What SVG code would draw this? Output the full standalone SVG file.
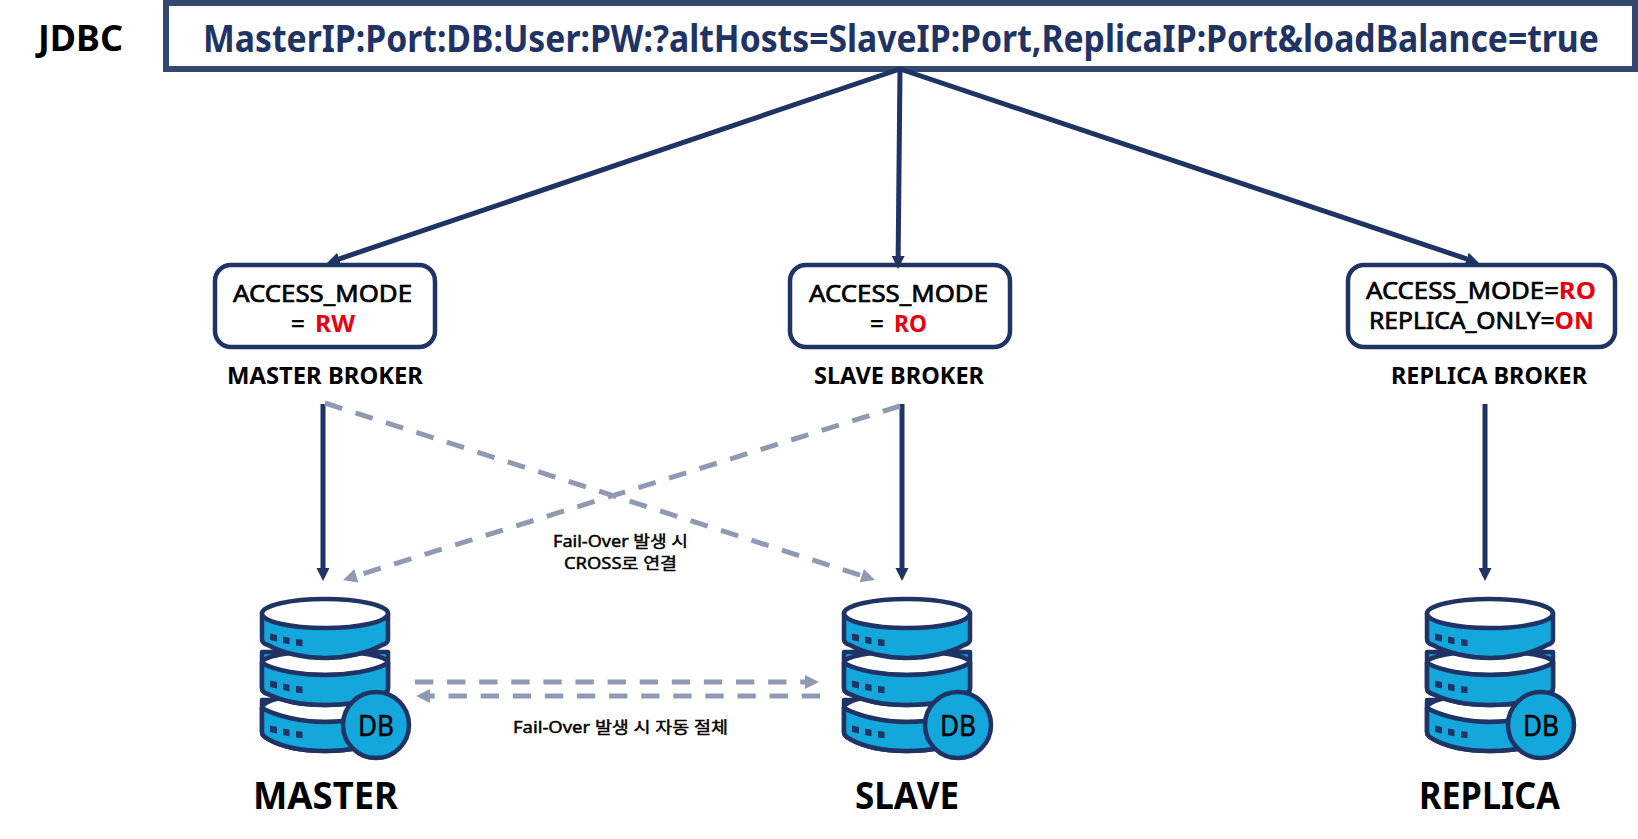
<svg xmlns="http://www.w3.org/2000/svg" width="1638" height="839" viewBox="0 0 1638 839">
<style>
text{font-family:"Noto Sans","Noto Sans CJK KR","Liberation Sans",sans-serif;fill:#000;text-anchor:start}
.b{font-weight:700}
.lbl{font-size:24px;stroke:#000;stroke-width:.7px}
.red{fill:#e60012;stroke:none;font-weight:700}
.broker{fill:#fff;stroke:#1f3364;stroke-width:4.5}
.cap{font-size:23px;font-weight:700}
.title{font-size:38px;font-weight:700}
.note{font-size:15.5px;stroke:#000;stroke-width:.45px}
.dbt{font-size:29px;stroke:#000;stroke-width:.5px}
.solid{fill:none;stroke:#1f3364;stroke-width:5}
.dash{fill:none;stroke:#8f99b2;stroke-width:5;stroke-dasharray:18 14}
.dash2{fill:none;stroke:#8f99b2;stroke-width:5;stroke-dasharray:18.3 13.8}
.body{fill:#13a7dc;stroke:#1f3364;stroke-width:4.5;stroke-linejoin:round}
.top{fill:#fff;stroke:#1f3364;stroke-width:4.5}
.dot{fill:#1f3364}
</style>
<defs>
<marker id="ah" markerUnits="userSpaceOnUse" markerWidth="14" markerHeight="14" refX="6" refY="7" orient="auto"><path d="M0 0.500L13 7L0 13.500Z" fill="#1f3364"/></marker>
<marker id="ahg" markerUnits="userSpaceOnUse" markerWidth="15" markerHeight="14" refX="0" refY="7" orient="auto"><path d="M0 0L14 7L0 14Z" fill="#8f99b2"/></marker>
<g id="dots"><path class="dot" d="M270 633.500l7 1.500v6.500l-7-1.500zM283 636.500l6.500 1.300v6.500l-6.500-1.300zM296 639l6.500 .7v6.500l-6.500-.7z"/></g>
<g id="db">
<path class="body" d="M262 700v32c0 3 2 5 6 7c14 8 36 12 57 12c21 0 43-4 57-12c4-2 6-4 6-7v-32z"/>
<ellipse class="top" cx="325" cy="708" rx="63" ry="14"/>
<path class="body" d="M262 708c14 8 40 14 63 14c23 0 49-6 63-14v24c0 3-2 5-6 7c-14 8-36 12-57 12c-21 0-43-4-57-12c-4-2-6-4-6-7z"/>
<path class="body" d="M262 652v36c0 3 2 5 6 6c14 7 36 11 57 11c21 0 43-4 57-11c4-1 6-3 6-6v-36z"/>
<ellipse class="top" cx="325" cy="663" rx="63" ry="12"/>
<path class="body" d="M262 663c14 8 40 12 63 12c23 0 49-4 63-12v25c0 3-2 5-6 6c-14 7-36 11-57 11c-21 0-43-4-57-11c-4-1-6-3-6-6z"/>
<path class="body" d="M262 613v26c0 3 2 5 6 6c14 8 36 13 57 13c21 0 43-5 57-13c4-1 6-3 6-6v-26z"/>
<ellipse class="top" cx="325" cy="613.500" rx="63" ry="14.500"/>
<use href="#dots"/><use href="#dots" y="47"/><use href="#dots" y="92"/>
<circle class="body" cx="376" cy="725" r="33"/>
</g>
</defs>
<rect width="1638" height="839" fill="#fff"/>

<g id="jdbc-label"><text class="b" x="38" y="51" font-size="35" textLength="85" lengthAdjust="spacingAndGlyphs">JDBC</text></g>
<g id="jdbc-url">
<rect x="166" y="3" width="1469" height="66" fill="#fff" stroke="#34476f" stroke-width="6"/>
<text class="b" transform="translate(203 52) scale(.9 1)" font-size="38" style="fill:#1f3364" textLength="1551" lengthAdjust="spacingAndGlyphs">MasterIP:Port:DB:User:PW:?altHosts=SlaveIP:Port,ReplicaIP:Port&amp;loadBalance=true</text>
</g>

<g id="master-broker">
<rect class="broker" x="215" y="265" width="220" height="82" rx="16"/>
<text class="lbl" x="233" y="302" textLength="179" lengthAdjust="spacingAndGlyphs">ACCESS_MODE</text>
<text class="lbl" x="291" y="332">=</text><text class="lbl red" x="315" y="332" textLength="40" lengthAdjust="spacingAndGlyphs">RW</text>
<text class="cap" x="227" y="384" textLength="196" lengthAdjust="spacingAndGlyphs">MASTER BROKER</text>
</g>
<g id="slave-broker">
<rect class="broker" x="790" y="265" width="220" height="82" rx="16"/>
<text class="lbl" x="809" y="302" textLength="179" lengthAdjust="spacingAndGlyphs">ACCESS_MODE</text>
<text class="lbl" x="870" y="332">=</text><text class="lbl red" x="894" y="332" textLength="33" lengthAdjust="spacingAndGlyphs">RO</text>
<text class="cap" x="814" y="384" textLength="170" lengthAdjust="spacingAndGlyphs">SLAVE BROKER</text>
</g>
<g id="replica-broker">
<rect class="broker" x="1348" y="265" width="267" height="82" rx="16"/>
<text class="lbl" x="1366" y="299" textLength="230" lengthAdjust="spacingAndGlyphs">ACCESS_MODE=<tspan class="red">RO</tspan></text>
<text class="lbl" x="1369" y="329" textLength="225" lengthAdjust="spacingAndGlyphs">REPLICA_ONLY=<tspan class="red">ON</tspan></text>
<text class="cap" x="1391" y="384" textLength="196" lengthAdjust="spacingAndGlyphs">REPLICA BROKER</text>
</g>

<g id="note-cross">
<text class="note" x="553" y="547" textLength="135" lengthAdjust="spacingAndGlyphs">Fail-Over 발생 시</text>
<text class="note" x="564" y="569" textLength="113" lengthAdjust="spacingAndGlyphs">CROSS로 연결</text>
</g>
<g id="note-auto"><text class="note" x="513" y="733" textLength="215" lengthAdjust="spacingAndGlyphs">Fail-Over 발생 시 자동 절체</text></g>

<g id="master">
<use href="#db"/>
<text class="dbt" x="358" y="736" textLength="36" lengthAdjust="spacingAndGlyphs">DB</text>
<text class="title" x="253" y="809" textLength="145" lengthAdjust="spacingAndGlyphs">MASTER</text>
</g>
<g id="slave">
<use href="#db" x="582"/>
<text class="dbt" x="940" y="736" textLength="36" lengthAdjust="spacingAndGlyphs">DB</text>
<text class="title" x="855" y="809" textLength="104" lengthAdjust="spacingAndGlyphs">SLAVE</text>
</g>
<g id="replica">
<use href="#db" x="1165"/>
<text class="dbt" x="1523" y="736" textLength="36" lengthAdjust="spacingAndGlyphs">DB</text>
<text class="title" x="1419" y="809" textLength="141" lengthAdjust="spacingAndGlyphs">REPLICA</text>
</g>

<g id="connectors">
<path class="solid" marker-end="url(#ah)" d="M900 69L333.600 260.800"/>
<path class="solid" marker-end="url(#ah)" d="M900 69L898.100 262"/>
<path class="solid" marker-end="url(#ah)" d="M900 69L1472.400 260.800"/>
<path class="solid" marker-end="url(#ah)" d="M323 404V574"/>
<path class="solid" marker-end="url(#ah)" d="M902 404V574"/>
<path class="solid" marker-end="url(#ah)" d="M1485 404V574"/>
<path class="dash" marker-end="url(#ahg)" d="M325 403L861.700 575.700"/>
<path class="dash" marker-end="url(#ahg)" d="M900 406L356.400 575.800"/>
<path class="dash2" marker-end="url(#ahg)" d="M415 682H805"/>
<path class="dash2" marker-end="url(#ahg)" d="M820 696H430"/>
</g>
</svg>
